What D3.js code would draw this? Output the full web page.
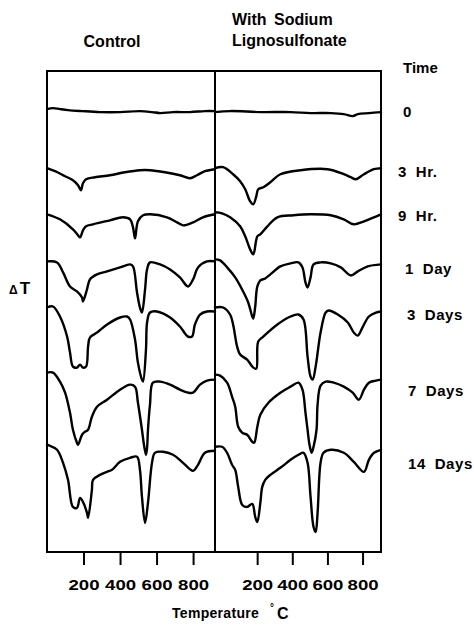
<!DOCTYPE html>
<html>
<head>
<meta charset="utf-8">
<script src="https://cdn.jsdelivr.net/npm/d3@7"></script>
<style>
  html, body { margin: 0; padding: 0; background: #fff; }
  svg { display: block; font-family: "Liberation Sans", Arial, Helvetica, sans-serif; font-weight: bold; }
</style>
</head>
<body>
<svg id="chart" width="474" height="632"></svg>
<script>
// ---- Data: DTA traces, [temperature °C, ΔT deflection (arb. units)] ----
const timeLabels = ["0", "3 Hr.", "9 Hr.", "1 Day", "3 Days", "7 Days", "14 Days"];
const tickTemps = [200, 400, 600, 800];

// Control paste
const control0h = [[0,0],[33,1],[71,0],[115,-1],[192,-2],[290,-3],[400,-3],[509,-2],[575,-3],[619,-4],[690,-3],[783,-3],[865,-2],[920,-2]];
const control3h = [[0,0],[44,-3],[99,-8],[142,-12],[170,-17],[186,-22],[197,-15],[214,-11],[263,-9],[345,-7],[427,-4],[509,-2],[564,-2],[646,-4],[728,-7],[783,-10],[821,-7],[865,-3],[920,-1]];
const control9h = [[0,0],[71,-5],[142,-15],[170,-21],[181,-23],[197,-16],[214,-12],[252,-10],[345,-6],[416,-3],[455,-5],[471,-13],[482,-24],[498,-7],[526,-1],[564,0],[657,-3],[712,-8],[745,-11],[800,-8],[854,-3],[920,0]];
const control1d = [[0,0],[55,-1],[88,-11],[126,-25],[164,-30],[192,-36],[197,-40],[219,-28],[235,-18],[274,-13],[329,-10],[400,-6],[455,-3],[471,-5],[493,-31],[509,-46],[520,-51],[537,-28],[548,-8],[564,-1],[619,-3],[674,-8],[728,-16],[772,-25],[800,-18],[827,-6],[876,0],[920,0]];
const control3d = [[0,0],[33,1],[71,-9],[110,-29],[126,-45],[142,-59],[164,-60],[181,-57],[197,-60],[214,-59],[225,-39],[235,-30],[274,-25],[329,-17],[400,-10],[438,-9],[455,-12],[482,-32],[498,-55],[520,-72],[526,-74],[542,-42],[548,-15],[564,-5],[602,-4],[674,-10],[728,-19],[772,-29],[794,-29],[810,-17],[838,-7],[876,-4],[920,-4]];
const control7d = [[0,0],[33,0],[71,-9],[99,-20],[126,-40],[142,-57],[164,-70],[170,-72],[192,-62],[208,-59],[225,-57],[246,-44],[274,-34],[329,-27],[400,-17],[455,-12],[482,-14],[498,-30],[520,-57],[531,-72],[542,-82],[548,-75],[553,-57],[564,-32],[580,-10],[619,-9],[674,-12],[728,-17],[772,-20],[800,-20],[838,-12],[876,-8],[920,-7]];
const control14d = [[0,0],[16,-1],[55,-5],[88,-18],[115,-35],[142,-62],[164,-63],[181,-53],[197,-57],[219,-68],[225,-73],[246,-45],[252,-35],[290,-30],[329,-27],[356,-25],[400,-17],[455,-13],[493,-12],[509,-25],[520,-52],[537,-78],[553,-58],[575,-18],[591,-8],[635,-7],[690,-10],[745,-18],[800,-26],[827,-20],[865,-8],[920,-6]];

// Paste with sodium lignosulfonate
const ligno0h = [[-40,0],[46,1],[218,0],[390,0],[504,-1],[619,-1],[693,-2],[744,-4],[773,-2],[836,-1],[905,0]];
const ligno3h = [[-40,0],[6,1],[63,-6],[103,-13],[132,-21],[160,-33],[178,-36],[195,-28],[206,-21],[235,-19],[275,-14],[332,-6],[447,-2],[601,-1],[693,-6],[733,-9],[762,-11],[808,-6],[865,-1],[905,0]];
const ligno9h = [[-40,0],[0,-1],[46,-5],[103,-14],[132,-24],[160,-37],[178,-42],[201,-24],[218,-22],[258,-14],[315,-5],[407,-3],[504,-2],[619,-3],[693,-7],[750,-12],[808,-9],[865,-5],[905,-2]];
const ligno1d = [[-40,0],[-11,-1],[29,-8],[75,-18],[120,-32],[149,-43],[172,-57],[178,-59],[189,-47],[201,-27],[218,-21],[246,-19],[275,-15],[332,-7],[390,-4],[435,-3],[458,-8],[475,-23],[487,-28],[504,-18],[521,-5],[561,-3],[619,-4],[676,-8],[733,-16],[773,-12],[830,-7],[905,-5]];
const ligno3d = [[-40,0],[6,0],[46,-7],[63,-17],[86,-39],[103,-47],[143,-52],[178,-60],[195,-61],[206,-34],[235,-29],[315,-17],[390,-9],[435,-7],[464,-12],[487,-49],[504,-69],[516,-72],[533,-59],[561,-25],[590,-5],[607,-3],[659,-7],[716,-15],[750,-25],[773,-28],[802,-19],[836,-9],[876,-5],[905,-4]];
const ligno7d = [[-40,0],[-11,-1],[29,-8],[57,-22],[75,-32],[92,-52],[115,-58],[143,-60],[172,-67],[183,-68],[201,-52],[218,-40],[264,-28],[332,-18],[390,-12],[435,-8],[458,-15],[475,-38],[487,-55],[498,-70],[510,-78],[521,-72],[538,-55],[544,-30],[561,-11],[590,-7],[636,-8],[693,-12],[744,-18],[779,-25],[808,-15],[836,-8],[876,-6],[905,-5]];
const ligno14d = [[-40,0],[0,0],[29,-6],[57,-18],[75,-23],[92,-40],[115,-58],[143,-60],[172,-57],[189,-70],[201,-75],[218,-56],[229,-40],[246,-33],[275,-28],[332,-21],[390,-13],[435,-8],[464,-6],[487,-16],[504,-50],[521,-80],[533,-85],[544,-66],[561,-16],[578,-6],[619,-3],[693,-6],[750,-15],[808,-25],[836,-13],[865,-6],[905,-3]];

const controlTraces = [control0h, control3h, control9h, control1d, control3d, control7d, control14d];
const lignoTraces = [ligno0h, ligno3h, ligno9h, ligno1d, ligno3d, ligno7d, ligno14d];

// ---- Layout ----
// vertical offset of each trace's baseline (same units as ΔT)
const controlOffset = [442, 383, 337, 290, 244, 179, 107];
const lignoOffset   = [439, 383, 339, 292, 244, 177, 105];
// extra drop of each time label below its trace baseline (px)
const labelDrop = [5, 9, 9, 15, 13, 21, 22];
const labelX    = [403, 398, 398, 405, 407, 408, 408];

const svg = d3.select("#chart");

const xControl = d3.scaleLinear().domain([0, 920]).range([47, 215]);
const xLigno   = d3.scaleLinear().domain([-40, 905]).range([215, 381]);
const y = d3.scaleLinear().domain([0, 480]).range([552, 71]);

const plotTop = y.range()[1], plotBottom = y.range()[0];
const left = xControl.range()[0], mid = xControl.range()[1], right = xLigno.range()[1];

// frame and divider
const frame = svg.append("g").attr("fill", "none").attr("stroke", "#000").attr("stroke-width", 2);
frame.append("rect")
  .attr("x", left).attr("y", plotTop)
  .attr("width", right - left).attr("height", plotBottom - plotTop);
frame.append("line")
  .attr("x1", mid).attr("x2", mid).attr("y1", plotTop).attr("y2", plotBottom);

// traces
function drawPanel(xs, traces, offsets) {
  const line = d3.line()
    .x(d => xs(d[0]))
    .y(d => y(d[1]))
    .curve(d3.curveCatmullRom.alpha(0.5));
  svg.append("g")
    .attr("fill", "none")
    .attr("stroke", "#000")
    .attr("stroke-width", 2.4)
    .attr("stroke-linejoin", "round")
    .attr("stroke-linecap", "round")
    .selectAll("path")
    .data(traces)
    .join("path")
    .attr("d", (tr, i) => line(tr.map(p => [p[0], offsets[i] + p[1]])));
}
drawPanel(xControl, controlTraces, controlOffset);
drawPanel(xLigno, lignoTraces, lignoOffset);

// temperature axes
function drawAxis(xs) {
  const g = svg.append("g")
    .attr("transform", `translate(0,${plotBottom})`)
    .call(d3.axisBottom(xs).tickValues(tickTemps).tickSize(13).tickPadding(14).tickFormat(d3.format("d")));
  g.select(".domain").remove();
  g.selectAll(".tick line").attr("stroke-width", 2);
  g.selectAll(".tick text")
    .attr("font-size", 15)
    .attr("font-weight", "bold")
    .attr("font-family", "Liberation Sans, Arial, sans-serif")
    .attr("fill", "#000")
    .attr("textLength", 31)
    .attr("lengthAdjust", "spacingAndGlyphs");
}
drawAxis(xControl);
drawAxis(xLigno);

// panel titles
svg.append("text").attr("x", 112).attr("y", 47).attr("text-anchor", "middle")
  .attr("font-size", 16).text("Control");
svg.append("text").attr("x", 232).attr("y", 25)
  .attr("font-size", 16).attr("word-spacing", 3).text("With Sodium");
svg.append("text").attr("x", 232).attr("y", 46)
  .attr("font-size", 16).text("Lignosulfonate");

// time column
svg.append("text").attr("x", 403).attr("y", 73).attr("font-size", 15).text("Time");
svg.append("g").selectAll("text")
  .data(timeLabels)
  .join("text")
  .attr("x", (d, i) => labelX[i])
  .attr("y", (d, i) => y(lignoOffset[i]) + labelDrop[i])
  .attr("font-size", 15)
  .attr("letter-spacing", 0.6)
  .attr("word-spacing", 4)
  .text(d => d);

// ΔT label
const dt = svg.append("text").attr("x", 9).attr("y", 294);
dt.append("tspan").attr("font-size", 12).text("Δ");
dt.append("tspan").attr("font-size", 17).attr("dx", 2).text("T");

// Temperature label with degree sign set above the C
svg.append("text").attr("x", 172).attr("y", 618).attr("font-size", 14)
  .attr("letter-spacing", 0.3).text("Temperature");
svg.append("text").attr("x", 270).attr("y", 611).attr("font-size", 10).text("°");
svg.append("text").attr("x", 277).attr("y", 619).attr("font-size", 16).text("C");
</script>
</body>
</html>
